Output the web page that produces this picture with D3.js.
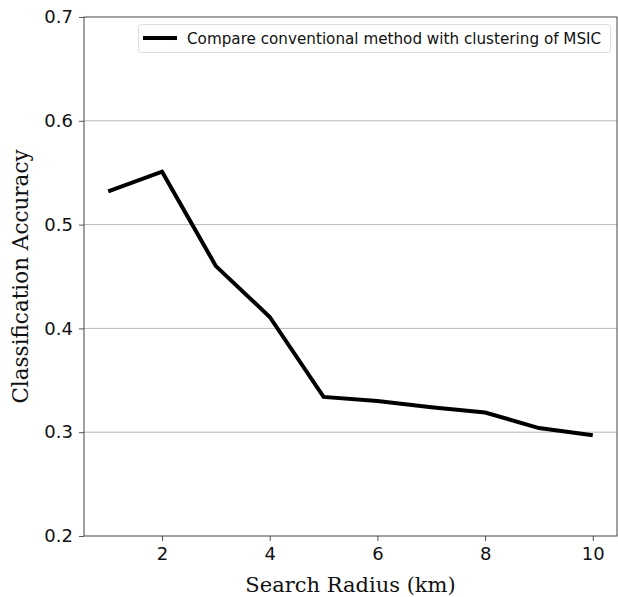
<!DOCTYPE html>
<html>
<head>
<meta charset="utf-8">
<script src="https://cdn.jsdelivr.net/npm/d3@7"></script>
<style>
  body { margin: 0; background: #fff; }
</style>
</head>
<body>
<div id="chart"></div>
<script>
const width = 618;
const height = 597;
const margin = { top: 17, right: 1, bottom: 61, left: 84 };

// data
const radius = [1, 2, 3, 4, 5, 6, 7, 8, 9, 10];
const accuracy = [0.532, 0.551, 0.460, 0.411, 0.334, 0.330, 0.324, 0.319, 0.304, 0.297];
const xTicks = [2, 4, 6, 8, 10];
const yTicks = [0.2, 0.3, 0.4, 0.5, 0.6, 0.7];
const seriesName = "Compare conventional method with clustering of MSIC";

const svg = d3.select("#chart")
    .append("svg")
    .attr("width", width)
    .attr("height", height);

const x = d3.scaleLinear()
    .domain([0.55, 10.45])
    .range([margin.left, width - margin.right]);

const y = d3.scaleLinear()
    .domain([0.2, 0.7])
    .range([height - margin.bottom, margin.top]);

// grid
svg.append("g")
    .selectAll("line")
    .data(yTicks.filter(d => d > 0.2 && d < 0.7))
    .enter()
    .append("line")
        .attr("x1", margin.left)
        .attr("x2", width - margin.right)
        .attr("y1", d => y(d))
        .attr("y2", d => y(d))
        .attr("stroke", "#b8b8b8")
        .attr("stroke-width", 1);

const xAxis = d3.axisBottom(x)
    .tickValues(xTicks)
    .tickSize(5)
    .tickPadding(6)
    .tickFormat(d3.format("d"));

const yAxis = d3.axisLeft(y)
    .tickValues(yTicks)
    .tickSize(5)
    .tickPadding(6)
    .tickFormat(d3.format(".1f"));

const gx = svg.append("g")
    .attr("transform", "translate(0," + (height - margin.bottom) + ")")
    .call(xAxis);

const gy = svg.append("g")
    .attr("transform", "translate(" + margin.left + ",0)")
    .call(yAxis);

[gx, gy].forEach(g => {
    g.select(".domain").remove();
    g.selectAll(".tick line").attr("stroke", "#555");
    g.selectAll(".tick text")
        .attr("fill", "#111")
        .style("font-family", "DejaVu Sans")
        .style("font-size", "18px");
});

// frame
svg.append("rect")
    .attr("x", margin.left)
    .attr("y", margin.top)
    .attr("width", width - margin.left - margin.right)
    .attr("height", height - margin.top - margin.bottom)
    .attr("fill", "none")
    .attr("stroke", "#444")
    .attr("stroke-width", 1);

// line
const line = d3.line()
    .x((d, i) => x(radius[i]))
    .y(d => y(d));

svg.append("path")
    .datum(accuracy)
    .attr("d", line)
    .attr("fill", "none")
    .attr("stroke", "#000")
    .attr("stroke-width", 4)
    .attr("stroke-linejoin", "miter");

// legend
const legend = svg.append("g");
legend.append("rect")
    .attr("x", 138.5)
    .attr("y", 24.5)
    .attr("width", 472)
    .attr("height", 28)
    .attr("rx", 3)
    .attr("fill", "#fff")
    .attr("stroke", "#ddd");
legend.append("line")
    .attr("x1", 143)
    .attr("x2", 177)
    .attr("y1", 38)
    .attr("y2", 38)
    .attr("stroke", "#000")
    .attr("stroke-width", 4);
legend.append("text")
    .attr("x", 187)
    .attr("y", 43.5)
    .attr("fill", "#111")
    .style("font-family", "DejaVu Sans")
    .style("font-size", "15.2px")
    .text(seriesName);

// axis titles
svg.append("text")
    .attr("x", margin.left + (width - margin.left - margin.right) / 2)
    .attr("y", 592)
    .attr("text-anchor", "middle")
    .attr("fill", "#111")
    .style("font-family", "DejaVu Serif")
    .style("font-size", "21px")
    .text("Search Radius (km)");

svg.append("text")
    .attr("transform", "translate(28," + (margin.top + (height - margin.top - margin.bottom) / 2) + ") rotate(-90)")
    .attr("text-anchor", "middle")
    .attr("fill", "#111")
    .style("font-family", "DejaVu Serif")
    .style("font-size", "21.5px")
    .text("Classification Accuracy");
</script>
</body>
</html>
